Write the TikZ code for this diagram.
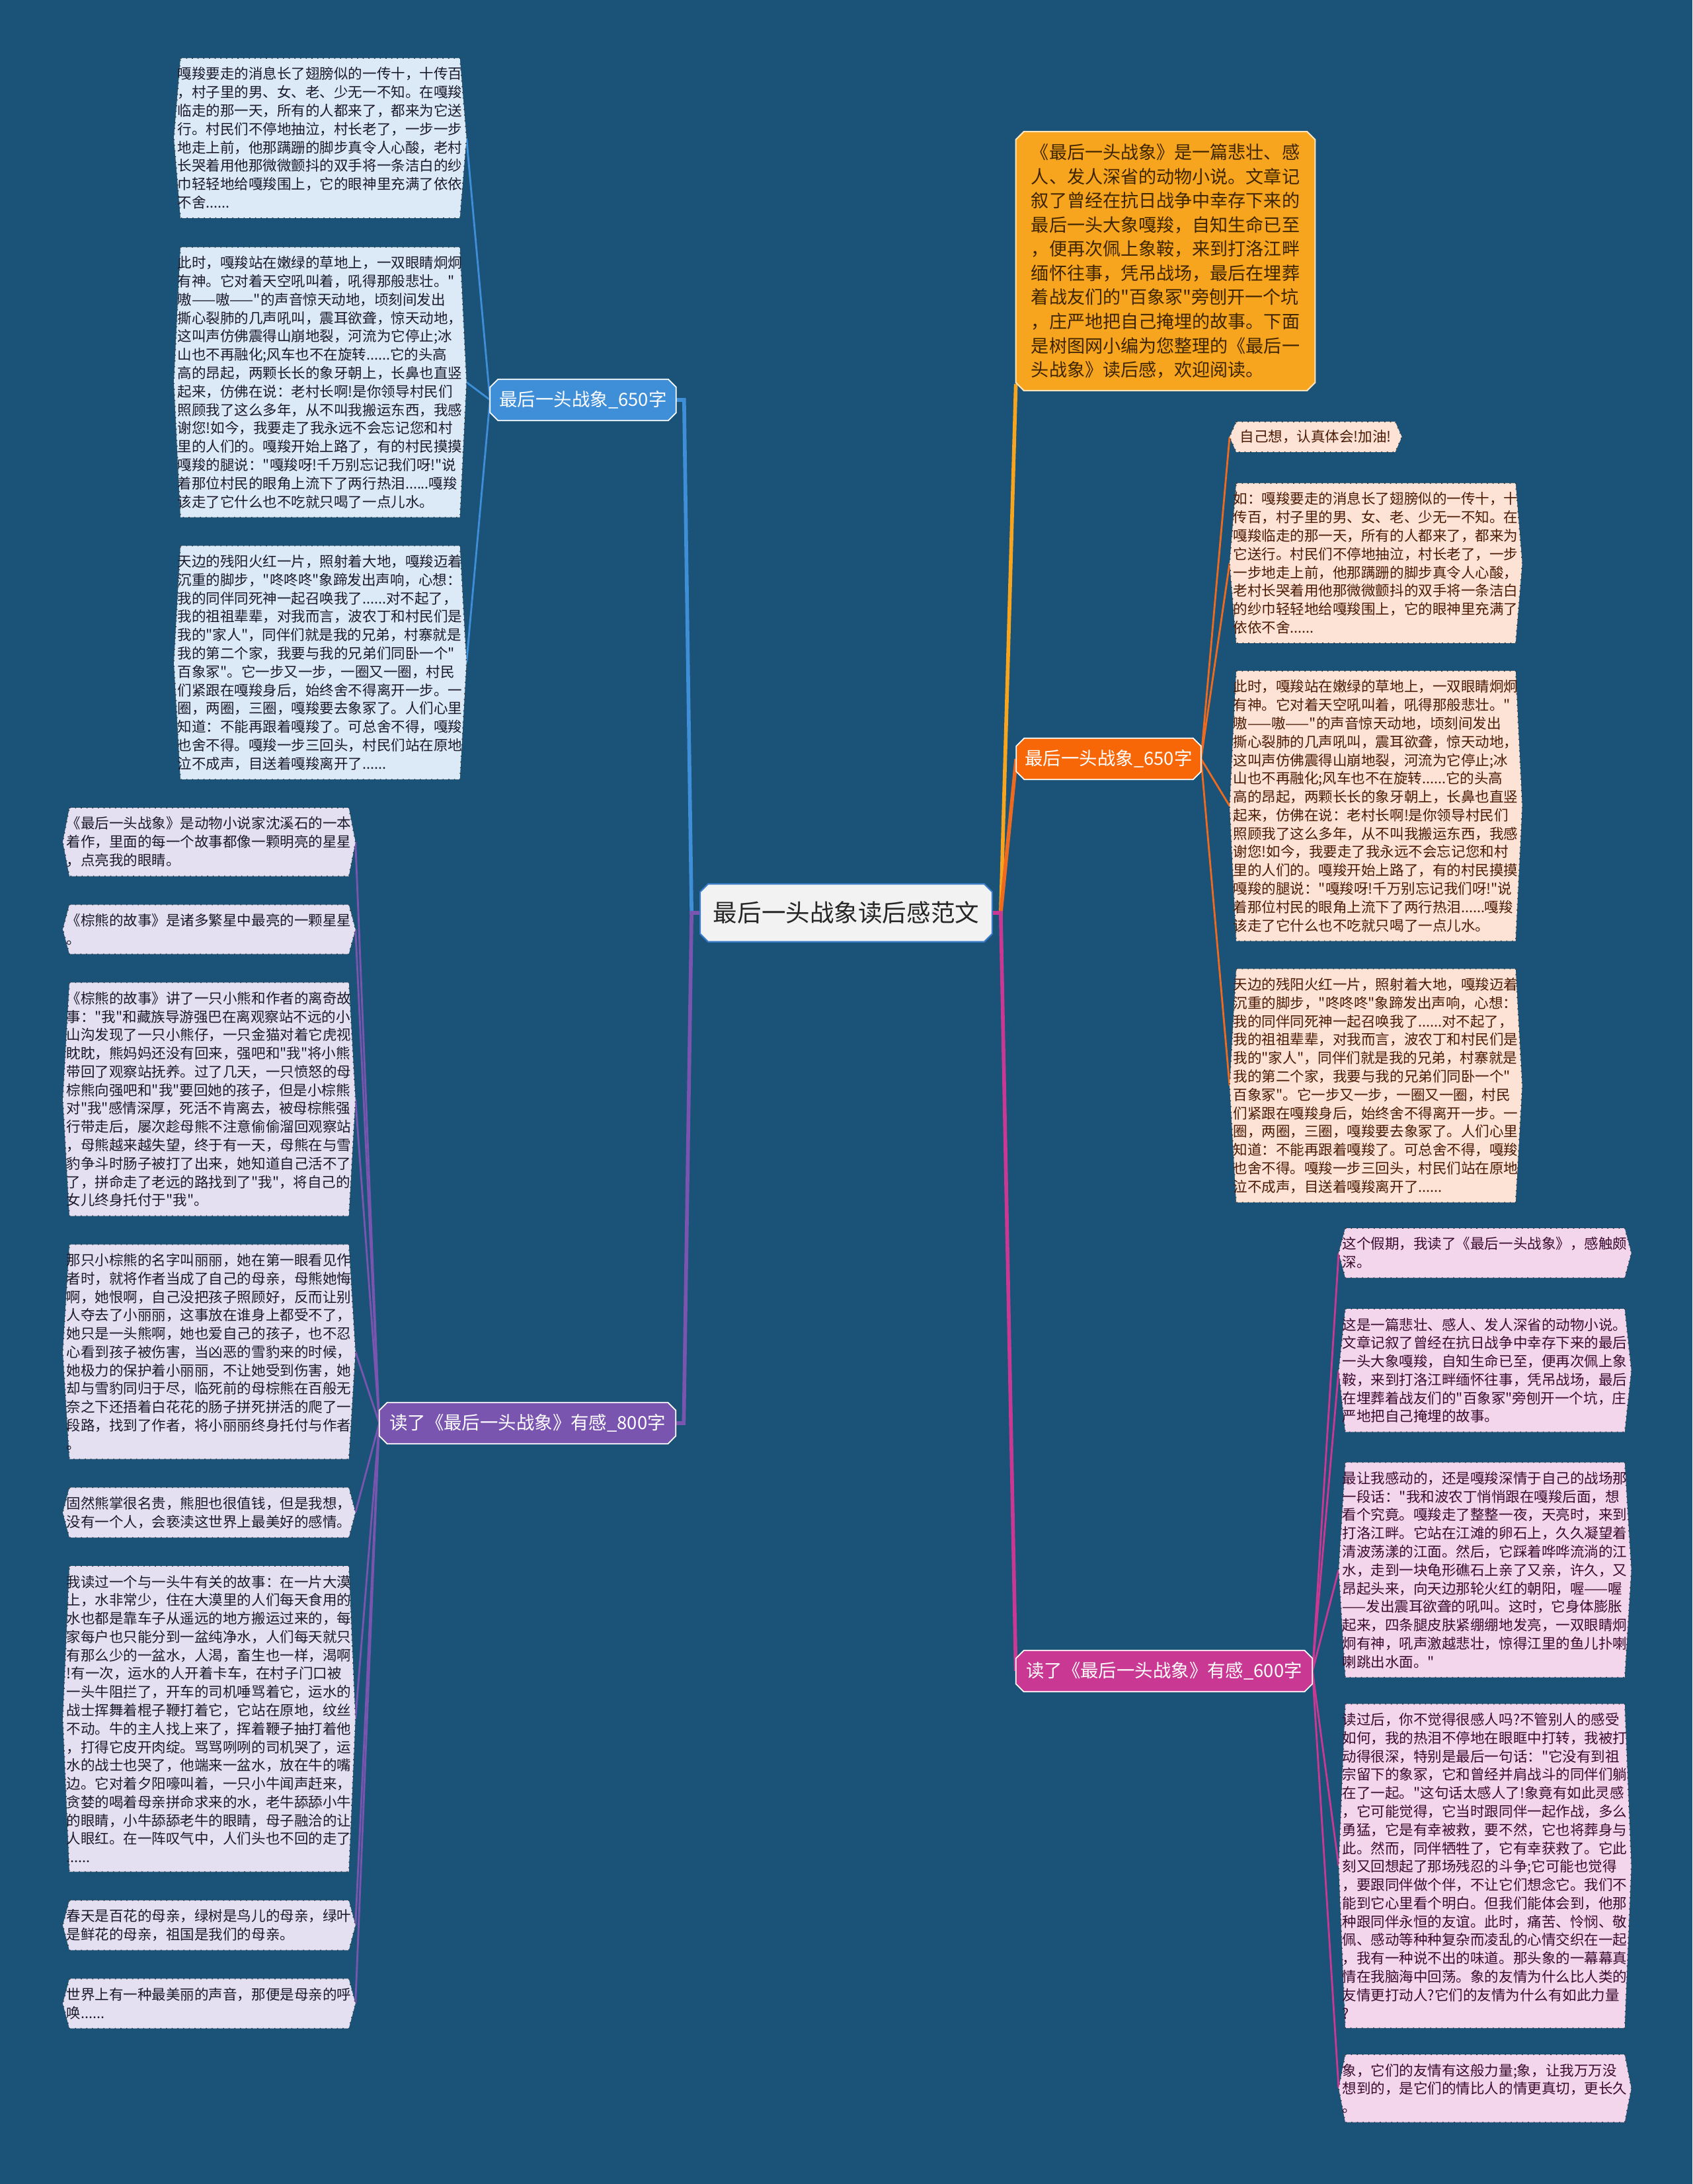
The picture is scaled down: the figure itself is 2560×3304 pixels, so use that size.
\documentclass[tikz,border=0pt]{standalone}
\usepackage{fontspec}
\setmainfont{Noto Sans CJK SC}[Ligatures=TeXOff]
\usetikzlibrary{positioning,backgrounds}
\definecolor{mapBg}{HTML}{1B5378}
\definecolor{mapCore}{HTML}{F2F2F2}
\definecolor{mapCoreRule}{HTML}{3A7BC8}
\definecolor{blueHead}{HTML}{3F8ED8}
\definecolor{blueLeaf}{HTML}{DCEAF7}
\definecolor{violetHead}{HTML}{7A55B0}
\definecolor{violetLeaf}{HTML}{E4E0F1}
\definecolor{amberBox}{HTML}{F7A51F}
\definecolor{amberInk}{HTML}{3E2500}
\definecolor{flameHead}{HTML}{F86707}
\definecolor{flameRay}{HTML}{EE6A1F}
\definecolor{peachLeaf}{HTML}{FDE3D5}
\definecolor{peachInk}{HTML}{4A1A05}
\definecolor{roseHead}{HTML}{C93893}
\definecolor{roseLeaf}{HTML}{F3D5EC}
\definecolor{roseInk}{HTML}{3A0B2E}
\definecolor{leafInk}{HTML}{1A1A2A}
\definecolor{leafRule}{HTML}{3A3A3A}
% six-sided rim round a leaf
\newcommand\hexrim[2]{\draw[rim,fill=#2] ([xshift=0.1cm]#1.north west) -- ([xshift=-0.1cm]#1.north east)
  -- (#1.east) -- ([xshift=-0.1cm]#1.south east) -- ([xshift=0.1cm]#1.south west) -- (#1.west) -- cycle;}
% eight-sided rim round a head
\newcommand\octrim[3]{\draw[#3,fill=#2] ([xshift=0.12cm]#1.north west) -- ([xshift=-0.12cm]#1.north east)
  -- ([yshift=-0.12cm]#1.north east) -- ([yshift=0.12cm]#1.south east) -- ([xshift=-0.12cm]#1.south east)
  -- ([xshift=0.12cm]#1.south west) -- ([yshift=0.12cm]#1.south west) -- ([yshift=-0.12cm]#1.north west) -- cycle;}

\begin{document}
\begin{tikzpicture}[x=0.01cm,y=-0.01cm,
    node distance=0.42cm,
    core/.style={text=black!85,font=\fontsize{10.4}{12}\selectfont,
                 minimum width=4.4cm,minimum height=0.86cm},
    head/.style={text=white,font=\fontsize{7.8}{9}\selectfont,
                 minimum height=0.61cm,inner xsep=0pt},
    leaf/.style={text width=4.31cm,align=left,inner xsep=0.05cm,inner ysep=0.13cm,
                 text=leafInk,font=\fontsize{6.12}{7.9}\selectfont},
    tip/.style={align=left,inner xsep=0.15cm,inner ysep=0.12cm,
                font=\fontsize{6.12}{7.9}\selectfont},
    rim/.style={draw=leafRule,dotted,line width=0.45pt},
    headrim/.style={draw=white,line width=0.5pt},
    trunk/.style={line width=1.6pt},
    twig/.style={line width=0.8pt}]
  \useasboundingbox (0,0) rectangle (2560,3304);

  % hub and branch heads
  \node[core] (c) at (1280,1381) {最后一头战象读后感范文};
  \node[head,minimum width=2.8cm] (bl) at (882,605) {最后一头战象\_650字};
  \node[head,minimum width=4.47cm] (pl) at (798,2153) {读了《最后一头战象》有感\_800字};
  \node[head,minimum width=2.78cm] (ol) at (1677,1148) {最后一头战象\_650字};
  \node[head,minimum width=4.47cm] (ml) at (1761,2528) {读了《最后一头战象》有感\_600字};
  \node[text=amberInk,align=left,font=\fontsize{7.7}{10.4}\selectfont,
        minimum width=4.51cm,minimum height=3.9cm,inner sep=0pt] (ob) at (1763,395)
    {《最后一头战象》是一篇悲壮、感\\
     人、发人深省的动物小说。文章记\\
     叙了曾经在抗日战争中幸存下来的\\
     最后一头大象嘎羧，自知生命已至\\
     ，便再次佩上象鞍，来到打洛江畔\\
     缅怀往事，凭吊战场，最后在埋葬\\
     着战友们的"百象冢"旁刨开一个坑\\
     ，庄严地把自己掩埋的故事。下面\\
     是树图网小编为您整理的《最后一\\
     头战象》读后感，欢迎阅读。};

  % blue leaves
  \node[leaf,anchor=north west] (b1) at (263,88)
    {嘎羧要走的消息长了翅膀似的一传十，十传百\\
     ，村子里的男、女、老、少无一不知。在嘎羧\\
     临走的那一天，所有的人都来了，都来为它送\\
     行。村民们不停地抽泣，村长老了，一步一步\\
     地走上前，他那蹒跚的脚步真令人心酸，老村\\
     长哭着用他那微微颤抖的双手将一条洁白的纱\\
     巾轻轻地给嘎羧围上，它的眼神里充满了依依\\
     不舍......};
  \node[leaf,below=0.44cm of b1] (b2)
    {此时，嘎羧站在嫩绿的草地上，一双眼睛炯炯\\
     有神。它对着天空吼叫着，吼得那般悲壮。"\\
     嗷——嗷——"的声音惊天动地，顷刻间发出\\
     撕心裂肺的几声吼叫，震耳欲聋，惊天动地，\\
     这叫声仿佛震得山崩地裂，河流为它停止;冰\\
     山也不再融化;风车也不在旋转......它的头高\\
     高的昂起，两颗长长的象牙朝上，长鼻也直竖\\
     起来，仿佛在说：老村长啊!是你领导村民们\\
     照顾我了这么多年，从不叫我搬运东西，我感\\
     谢您!如今，我要走了我永远不会忘记您和村\\
     里的人们的。嘎羧开始上路了，有的村民摸摸\\
     嘎羧的腿说："嘎羧呀!千万别忘记我们呀!"说\\
     着那位村民的眼角上流下了两行热泪......嘎羧\\
     该走了它什么也不吃就只喝了一点儿水。};
  \node[leaf,below=0.43cm of b2] (b3)
    {天边的残阳火红一片，照射着大地，嘎羧迈着\\
     沉重的脚步，"咚咚咚"象蹄发出声响，心想：\\
     我的同伴同死神一起召唤我了......对不起了，\\
     我的祖祖辈辈，对我而言，波农丁和村民们是\\
     我的"家人"，同伴们就是我的兄弟，村寨就是\\
     我的第二个家，我要与我的兄弟们同卧一个"\\
     百象冢"。它一步又一步，一圈又一圈，村民\\
     们紧跟在嘎羧身后，始终舍不得离开一步。一\\
     圈，两圈，三圈，嘎羧要去象冢了。人们心里\\
     知道：不能再跟着嘎羧了。可总舍不得，嘎羧\\
     也舍不得。嘎羧一步三回头，村民们站在原地\\
     泣不成声，目送着嘎羧离开了......};

  % peach leaves
  \node[tip,text=peachInk,anchor=north west] (r0) at (1860,638) {自己想，认真体会!加油!};
  \node[leaf,text=peachInk,anchor=north west] (r1) at (1860,731)
    {如：嘎羧要走的消息长了翅膀似的一传十，十\\
     传百，村子里的男、女、老、少无一不知。在\\
     嘎羧临走的那一天，所有的人都来了，都来为\\
     它送行。村民们不停地抽泣，村长老了，一步\\
     一步地走上前，他那蹒跚的脚步真令人心酸，\\
     老村长哭着用他那微微颤抖的双手将一条洁白\\
     的纱巾轻轻地给嘎羧围上，它的眼神里充满了\\
     依依不舍......};
  \node[leaf,text=peachInk,below=of r1] (r2)
    {此时，嘎羧站在嫩绿的草地上，一双眼睛炯炯\\
     有神。它对着天空吼叫着，吼得那般悲壮。"\\
     嗷——嗷——"的声音惊天动地，顷刻间发出\\
     撕心裂肺的几声吼叫，震耳欲聋，惊天动地，\\
     这叫声仿佛震得山崩地裂，河流为它停止;冰\\
     山也不再融化;风车也不在旋转......它的头高\\
     高的昂起，两颗长长的象牙朝上，长鼻也直竖\\
     起来，仿佛在说：老村长啊!是你领导村民们\\
     照顾我了这么多年，从不叫我搬运东西，我感\\
     谢您!如今，我要走了我永远不会忘记您和村\\
     里的人们的。嘎羧开始上路了，有的村民摸摸\\
     嘎羧的腿说："嘎羧呀!千万别忘记我们呀!"说\\
     着那位村民的眼角上流下了两行热泪......嘎羧\\
     该走了它什么也不吃就只喝了一点儿水。};
  \node[leaf,text=peachInk,below=of r2] (r3)
    {天边的残阳火红一片，照射着大地，嘎羧迈着\\
     沉重的脚步，"咚咚咚"象蹄发出声响，心想：\\
     我的同伴同死神一起召唤我了......对不起了，\\
     我的祖祖辈辈，对我而言，波农丁和村民们是\\
     我的"家人"，同伴们就是我的兄弟，村寨就是\\
     我的第二个家，我要与我的兄弟们同卧一个"\\
     百象冢"。它一步又一步，一圈又一圈，村民\\
     们紧跟在嘎羧身后，始终舍不得离开一步。一\\
     圈，两圈，三圈，嘎羧要去象冢了。人们心里\\
     知道：不能再跟着嘎羧了。可总舍不得，嘎羧\\
     也舍不得。嘎羧一步三回头，村民们站在原地\\
     泣不成声，目送着嘎羧离开了......};

  % rose leaves
  \node[leaf,text=roseInk,anchor=north west] (k1) at (2025,1858)
    {这个假期，我读了《最后一头战象》，感触颇\\
     深。};
  \node[leaf,text=roseInk,below=0.47cm of k1] (k2)
    {这是一篇悲壮、感人、发人深省的动物小说。\\
     文章记叙了曾经在抗日战争中幸存下来的最后\\
     一头大象嘎羧，自知生命已至，便再次佩上象\\
     鞍，来到打洛江畔缅怀往事，凭吊战场，最后\\
     在埋葬着战友们的"百象冢"旁刨开一个坑，庄\\
     严地把自己掩埋的故事。};
  \node[leaf,text=roseInk,below=0.46cm of k2] (k3)
    {最让我感动的，还是嘎羧深情于自己的战场那\\
     一段话："我和波农丁悄悄跟在嘎羧后面，想\\
     看个究竟。嘎羧走了整整一夜，天亮时，来到\\
     打洛江畔。它站在江滩的卵石上，久久凝望着\\
     清波荡漾的江面。然后，它踩着哗哗流淌的江\\
     水，走到一块龟形礁石上亲了又亲，许久，又\\
     昂起头来，向天边那轮火红的朝阳，喔——喔\\
     ——发出震耳欲聋的吼叫。这时，它身体膨胀\\
     起来，四条腿皮肤紧绷绷地发亮，一双眼睛炯\\
     炯有神，吼声激越悲壮，惊得江里的鱼儿扑喇\\
     喇跳出水面。"};
  \node[leaf,text=roseInk,below=0.4cm of k3] (k4)
    {读过后，你不觉得很感人吗?不管别人的感受\\
     如何，我的热泪不停地在眼眶中打转，我被打\\
     动得很深，特别是最后一句话："它没有到祖\\
     宗留下的象冢，它和曾经并肩战斗的同伴们躺\\
     在了一起。"这句话太感人了!象竟有如此灵感\\
     ，它可能觉得，它当时跟同伴一起作战，多么\\
     勇猛，它是有幸被救，要不然，它也将葬身与\\
     此。然而，同伴牺牲了，它有幸获救了。它此\\
     刻又回想起了那场残忍的斗争;它可能也觉得\\
     ，要跟同伴做个伴，不让它们想念它。我们不\\
     能到它心里看个明白。但我们能体会到，他那\\
     种跟同伴永恒的友谊。此时，痛苦、怜悯、敬\\
     佩、感动等种种复杂而凌乱的心情交织在一起\\
     ，我有一种说不出的味道。那头象的一幕幕真\\
     情在我脑海中回荡。象的友情为什么比人类的\\
     友情更打动人?它们的友情为什么有如此力量\\
     ?};
  \node[leaf,text=roseInk,below=0.4cm of k4] (k5)
    {象，它们的友情有这般力量;象，让我万万没\\
     想到的，是它们的情比人的情更真切，更长久\\
     。};

  % violet leaves
  \node[leaf,anchor=north west] (p1) at (95,1222)
    {《最后一头战象》是动物小说家沈溪石的一本\\
     着作，里面的每一个故事都像一颗明亮的星星\\
     ，点亮我的眼睛。};
  \node[leaf,below=0.43cm of p1] (p2)
    {《棕熊的故事》是诸多繁星中最亮的一颗星星\\
     。};
  \node[leaf,below=0.43cm of p2] (p3)
    {《棕熊的故事》讲了一只小熊和作者的离奇故\\
     事："我"和藏族导游强巴在离观察站不远的小\\
     山沟发现了一只小熊仔，一只金猫对着它虎视\\
     眈眈，熊妈妈还没有回来，强吧和"我"将小熊\\
     带回了观察站抚养。过了几天，一只愤怒的母\\
     棕熊向强吧和"我"要回她的孩子，但是小棕熊\\
     对"我"感情深厚，死活不肯离去，被母棕熊强\\
     行带走后，屡次趁母熊不注意偷偷溜回观察站\\
     ，母熊越来越失望，终于有一天，母熊在与雪\\
     豹争斗时肠子被打了出来，她知道自己活不了\\
     了，拼命走了老远的路找到了"我"，将自己的\\
     女儿终身托付于"我"。};
  \node[leaf,below=0.43cm of p3] (p4)
    {那只小棕熊的名字叫丽丽，她在第一眼看见作\\
     者时，就将作者当成了自己的母亲，母熊她悔\\
     啊，她恨啊，自己没把孩子照顾好，反而让别\\
     人夺去了小丽丽，这事放在谁身上都受不了，\\
     她只是一头熊啊，她也爱自己的孩子，也不忍\\
     心看到孩子被伤害，当凶恶的雪豹来的时候，\\
     她极力的保护着小丽丽，不让她受到伤害，她\\
     却与雪豹同归于尽，临死前的母棕熊在百般无\\
     奈之下还捂着白花花的肠子拼死拼活的爬了一\\
     段路，找到了作者，将小丽丽终身托付与作者\\
     。};
  \node[leaf,below=0.43cm of p4] (p5)
    {固然熊掌很名贵，熊胆也很值钱，但是我想，\\
     没有一个人，会亵渎这世界上最美好的感情。};
  \node[leaf,below=0.43cm of p5] (p6)
    {我读过一个与一头牛有关的故事：在一片大漠\\
     上，水非常少，住在大漠里的人们每天食用的\\
     水也都是靠车子从遥远的地方搬运过来的，每\\
     家每户也只能分到一盆纯净水，人们每天就只\\
     有那么少的一盆水，人渴，畜生也一样，渴啊\\
     !有一次，运水的人开着卡车，在村子门口被\\
     一头牛阻拦了，开车的司机唾骂着它，运水的\\
     战士挥舞着棍子鞭打着它，它站在原地，纹丝\\
     不动。牛的主人找上来了，挥着鞭子抽打着他\\
     ，打得它皮开肉绽。骂骂咧咧的司机哭了，运\\
     水的战士也哭了，他端来一盆水，放在牛的嘴\\
     边。它对着夕阳嚎叫着，一只小牛闻声赶来，\\
     贪婪的喝着母亲拼命求来的水，老牛舔舔小牛\\
     的眼睛，小牛舔舔老牛的眼睛，母子融洽的让\\
     人眼红。在一阵叹气中，人们头也不回的走了\\
     ......};
  \node[leaf,below=0.43cm of p6] (p7)
    {春天是百花的母亲，绿树是鸟儿的母亲，绿叶\\
     是鲜花的母亲，祖国是我们的母亲。};
  \node[leaf,below=0.43cm of p7] (p8)
    {世界上有一种最美丽的声音，那便是母亲的呼\\
     唤......};

  \begin{scope}[on background layer]
    \fill[mapBg] (0,0) rectangle (2560,3304);
    % branches from the hub
    \draw[trunk,blueHead] (c.west) -- ++(-13,0) -- ([xshift=0.12cm]bl.east) -- (bl.east);
    \draw[trunk,violetHead] (c.west) -- ++(-13,0) -- ([xshift=0.12cm]pl.east) -- (pl.east);
    \draw[trunk,amberBox] (c.east) -- ++(13,0) -- ([yshift=0.1cm]ob.south west);
    \draw[trunk,flameRay] (c.east) -- ++(13,0) -- (ol.west);
    \draw[trunk,roseHead] (c.east) -- ++(13,0) -- (ml.west);
    % twigs to the leaves
    \foreach \n in {b1,b2,b3} \draw[twig,blueHead] (bl.west) -- (\n.east);
    \foreach \n in {p1,p2,p3,p4,p5,p6,p7,p8} \draw[twig,violetHead] (pl.west) -- (\n.east);
    \foreach \n in {r0,r1,r2,r3} \draw[twig,flameRay] (ol.east) -- (\n.west);
    \foreach \n in {k1,k2,k3,k4,k5} \draw[twig,roseHead] (ml.east) -- (\n.west);
    % rims
    \octrim{c}{mapCore}{draw=mapCoreRule,line width=0.6pt}
    \octrim{bl}{blueHead}{headrim}
    \octrim{pl}{violetHead}{headrim}
    \octrim{ol}{flameHead}{headrim}
    \octrim{ml}{roseHead}{headrim}
    \octrim{ob}{amberBox}{draw=white!70!amberBox,line width=0.6pt}
    \foreach \n in {b1,b2,b3} {\hexrim{\n}{blueLeaf}}
    \foreach \n in {r0,r1,r2,r3} {\hexrim{\n}{peachLeaf}}
    \foreach \n in {k1,k2,k3,k4,k5} {\hexrim{\n}{roseLeaf}}
    \foreach \n in {p1,p2,p3,p4,p5,p6,p7,p8} {\hexrim{\n}{violetLeaf}}
  \end{scope}
\end{tikzpicture}
\end{document}
